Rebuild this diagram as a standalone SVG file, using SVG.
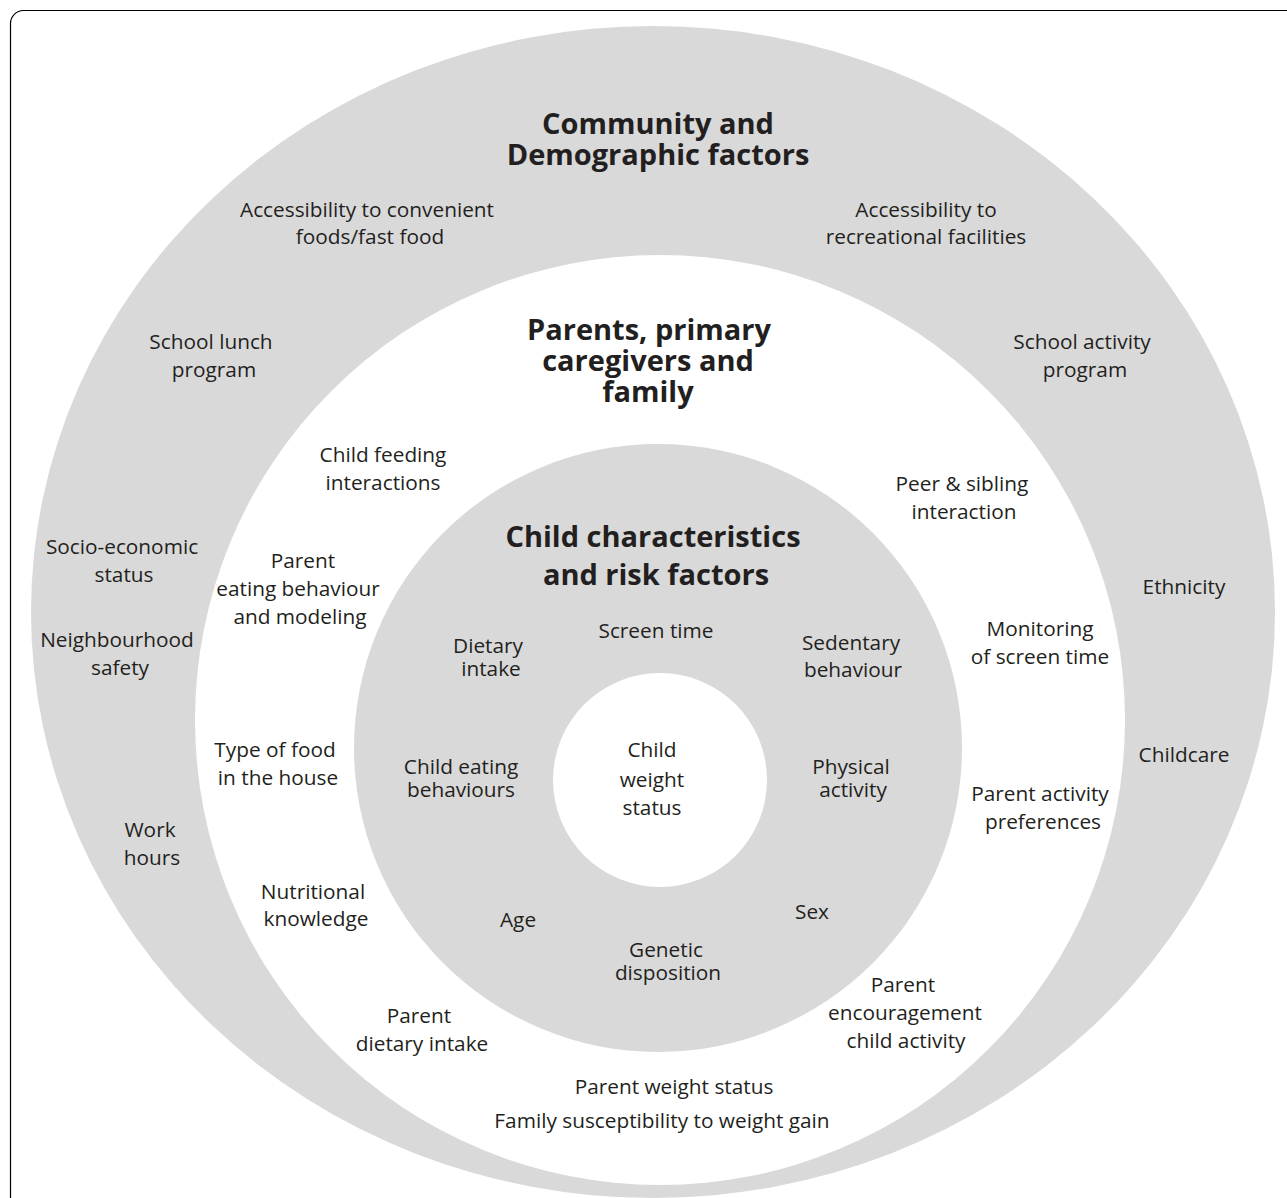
<svg xmlns="http://www.w3.org/2000/svg" width="1287" height="1198" viewBox="0 0 1287 1198">
<style>
.ring-grey{fill:#d9d9d9}
.ring-white{fill:#ffffff}
text{font-family:"Open Sans","Noto Sans","Liberation Sans",sans-serif;fill:#231f20;text-anchor:middle}
.lbl{font-size:20.8px}
.ttl{font-size:29px;font-weight:bold}
</style>
<rect x="10.5" y="10.5" width="1290" height="1210" rx="13" ry="13" fill="#ffffff" stroke="#000000" stroke-width="1.2"/>
<g id="ring-community">
<ellipse class="ring-grey" cx="653" cy="612" rx="622" ry="586"/>
</g>
<g id="ring-family">
<circle class="ring-white" cx="660" cy="720" r="465"/>
</g>
<g id="ring-child">
<circle class="ring-grey" cx="658" cy="748" r="304"/>
</g>
<g id="ring-core">
<circle class="ring-white" cx="660" cy="780" r="107"/>
</g>
<g id="connectors"/>
<g id="title-community"><text class="ttl" x="658" y="134">Community and</text><text class="ttl" x="658" y="165">Demographic factors</text></g>
<g id="n-access-food"><text class="lbl" x="367" y="217">Accessibility to convenient</text><text class="lbl" x="370" y="244">foods/fast food</text></g>
<g id="n-access-rec"><text class="lbl" x="926" y="217">Accessibility to</text><text class="lbl" x="926" y="244">recreational facilities</text></g>
<g id="n-school-lunch"><text class="lbl" x="211" y="349">School lunch</text><text class="lbl" x="214" y="377">program</text></g>
<g id="n-school-activity"><text class="lbl" x="1082" y="349">School activity</text><text class="lbl" x="1085" y="377">program</text></g>
<g id="title-family"><text class="ttl" x="649" y="340">Parents, primary</text><text class="ttl" x="648" y="371">caregivers and</text><text class="ttl" x="648" y="402">family</text></g>
<g id="n-feeding"><text class="lbl" x="383" y="462">Child feeding</text><text class="lbl" x="383" y="490">interactions</text></g>
<g id="n-peer"><text class="lbl" x="962" y="491">Peer &amp; sibling</text><text class="lbl" x="964" y="519">interaction</text></g>
<g id="n-ses"><text class="lbl" x="122" y="554">Socio-economic</text><text class="lbl" x="124" y="582">status</text></g>
<g id="n-ethnicity"><text class="lbl" x="1184" y="594">Ethnicity</text></g>
<g id="n-safety"><text class="lbl" x="117" y="647">Neighbourhood</text><text class="lbl" x="120" y="675">safety</text></g>
<g id="n-parent-eating"><text class="lbl" x="303" y="568">Parent</text><text class="lbl" x="298" y="596">eating behaviour</text><text class="lbl" x="300" y="624">and modeling</text></g>
<g id="title-child"><text class="ttl" x="653" y="547">Child characteristics</text><text class="ttl" x="656" y="585">and risk factors</text></g>
<g id="n-dietary"><text class="lbl" x="488" y="653">Dietary</text><text class="lbl" x="491" y="676">intake</text></g>
<g id="n-screen"><text class="lbl" x="656" y="638">Screen time</text></g>
<g id="n-sedentary"><text class="lbl" x="851" y="650">Sedentary</text><text class="lbl" x="853" y="677">behaviour</text></g>
<g id="n-monitoring"><text class="lbl" x="1040" y="636">Monitoring</text><text class="lbl" x="1040" y="664">of screen time</text></g>
<g id="n-weight-status"><text class="lbl" x="652" y="757">Child</text><text class="lbl" x="652" y="787">weight</text><text class="lbl" x="652" y="815">status</text></g>
<g id="n-food-house"><text class="lbl" x="275" y="757">Type of food</text><text class="lbl" x="278" y="785">in the house</text></g>
<g id="n-child-eating"><text class="lbl" x="461" y="774">Child eating</text><text class="lbl" x="461" y="797">behaviours</text></g>
<g id="n-physical"><text class="lbl" x="851" y="774">Physical</text><text class="lbl" x="853" y="797">activity</text></g>
<g id="n-childcare"><text class="lbl" x="1184" y="762">Childcare</text></g>
<g id="n-parent-activity"><text class="lbl" x="1040" y="801">Parent activity</text><text class="lbl" x="1043" y="829">preferences</text></g>
<g id="n-work"><text class="lbl" x="150" y="837">Work</text><text class="lbl" x="152" y="865">hours</text></g>
<g id="n-nutrition"><text class="lbl" x="313" y="899">Nutritional</text><text class="lbl" x="316" y="926">knowledge</text></g>
<g id="n-age"><text class="lbl" x="518" y="927">Age</text></g>
<g id="n-sex"><text class="lbl" x="812" y="919">Sex</text></g>
<g id="n-genetic"><text class="lbl" x="666" y="957">Genetic</text><text class="lbl" x="668" y="980">disposition</text></g>
<g id="n-encouragement"><text class="lbl" x="903" y="992">Parent</text><text class="lbl" x="905" y="1020">encouragement</text><text class="lbl" x="906" y="1048">child activity</text></g>
<g id="n-parent-dietary"><text class="lbl" x="419" y="1023">Parent</text><text class="lbl" x="422" y="1051">dietary intake</text></g>
<g id="n-parent-weight"><text class="lbl" x="674" y="1094">Parent weight status</text></g>
<g id="n-family-susc"><text class="lbl" x="662" y="1128">Family susceptibility to weight gain</text></g>
</svg>
